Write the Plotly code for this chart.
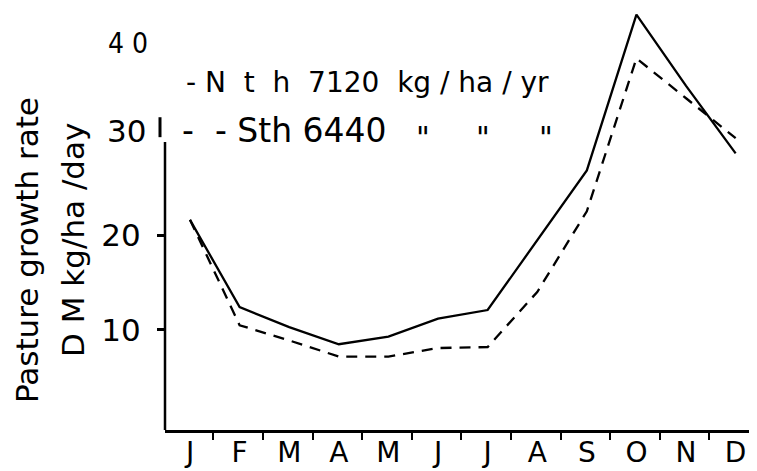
import plotly.graph_objects as go

months = ["J", "F", "M", "A", "M", "J", "J", "A", "S", "O", "N", "D"]
north = [21.6, 12.4, 10.3, 8.5, 9.3, 11.2, 12.1, 19.5, 26.8, 43.2, 35.7, 28.6]
south = [21.6, 10.5, 8.9, 7.2, 7.2, 8.1, 8.2, 14.0, 22.5, 38.6, 34.4, 30.2]
ytick_vals = [10, 20]
ytick_text = ["10", "20"]

# the page body adds an 8px offset, so the figure is sized to fit the window
OFF = 8
W, H = 757 - OFF, 471 - OFF
L, R, T, B = 165 - OFF, 2, 0, 41
PW, PH = W - L - R, H - T - B

def px(x):
    return (x - 165) / PW

def py(y):
    return (430 - y) / PH

x = list(range(len(months)))
FONT = "DejaVu Sans"
COND = "DejaVu Sans Condensed, DejaVu Sans"

fig = go.Figure()
fig.add_trace(go.Scatter(x=x, y=north, mode="lines",
                         line=dict(color="black", width=2.3), name="Nth"))
fig.add_trace(go.Scatter(x=x, y=south, mode="lines",
                         line=dict(color="black", width=2.3, dash="11px,8px"), name="Sth"))

fig.update_layout(
    width=W, height=H,
    margin=dict(l=L, r=R, t=T, b=B, pad=0, autoexpand=False),
    paper_bgcolor="white", plot_bgcolor="white",
    showlegend=False,
    font=dict(family=FONT, color="black"),
    xaxis=dict(
        range=[-0.504, 11.39], tickmode="array", tickvals=x, ticktext=months,
        ticks="", showgrid=False, zeroline=False, showline=True, automargin=False,
        linecolor="black", linewidth=2.5,
        tickfont=dict(size=28, family=FONT), ticklabelstandoff=-4,
        minor=dict(tickmode="linear", tick0=0.47, dtick=1, ticks="outside",
                   ticklen=7, tickwidth=2, tickcolor="black", showgrid=False),
    ),
    yaxis=dict(
        range=[-0.53, 43.9], tickmode="array", tickvals=ytick_vals, ticktext=ytick_text,
        ticks="outside", ticklen=7, tickwidth=2.5, tickcolor="black", automargin=False,
        showgrid=False, zeroline=False, showline=False,
        tickfont=dict(size=31, family=FONT), ticklabelstandoff=10,
    ),
)

# y axis line (stops near 30)
fig.add_shape(type="line", xref="paper", yref="y", x0=0, x1=0, y0=-0.53, y1=29.8,
              line=dict(color="black", width=2.5))
fig.add_shape(type="line", xref="paper", yref="y", x0=px(160), x1=px(160), y0=30.3, y1=32.4,
              line=dict(color="black", width=3))

def text(t, x0, y0, size, family=FONT, xanchor="center", angle=0):
    fig.add_annotation(text=t, x=px(x0), y=py(y0), xref="paper", yref="paper",
                       showarrow=False, xanchor=xanchor, yanchor="middle", textangle=angle,
                       font=dict(size=size, family=family, color="black"))

text("30", 126, 131, 31)
text("4 0", 128, 43, 28, COND)

# legend text
text("- N  t  h  7120  kg / ha / yr", 184, 82, 28, xanchor="left")
text("-  - Sth 6440", 180, 131, 33, xanchor="left")
for qx in [423, 483, 546]:
    text("\"", qx, 138, 30)

# axis titles
text("Pasture growth rate", 27, 250, 31, angle=-90)
text("D M kg/ha /day", 73, 240, 31, angle=-90)

fig.write_html("out.html")
